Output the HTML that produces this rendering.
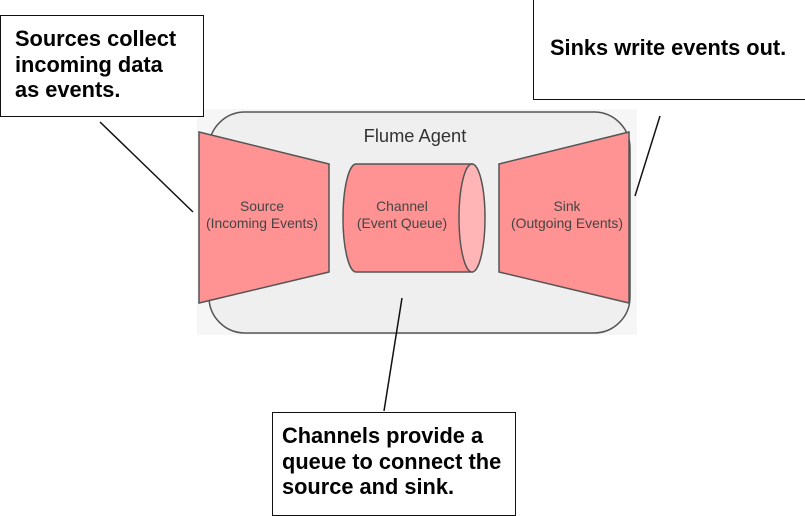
<!DOCTYPE html>
<html><head><meta charset="utf-8"><style>
html,body{margin:0;padding:0;background:#fff;}
body{width:805px;height:513px;position:relative;overflow:hidden;font-family:"Liberation Sans",Arial,sans-serif;}
.box{position:absolute;border:1.5px solid #111;background:#fff;box-sizing:border-box;font-weight:bold;color:#000;font-size:21.8px;line-height:25.5px;white-space:nowrap;}
</style></head><body>
<svg width="805" height="513" style="position:absolute;left:0;top:0">
<rect x="197" y="109" width="440" height="226" fill="#f6f6f6"/>
<rect x="209" y="112" width="421" height="221" rx="36" ry="36" fill="#efefef" stroke="#555" stroke-width="1.5"/>
<text x="415" y="142" font-family="Liberation Sans,Arial,sans-serif" font-size="18.3" fill="#333" text-anchor="middle">Flume Agent</text>
<polygon points="199,132 329,164 329,272 199,303" fill="#ff9393" stroke="#555" stroke-width="1.5"/>
<polygon points="499,164 629,132 629,303 499,272" fill="#ff9393" stroke="#555" stroke-width="1.5"/>
<path d="M356,164 L472,164 L472,272 L356,272 A13,54 0 0 1 356,164 Z" fill="#ff9393" stroke="#555" stroke-width="1.5"/>
<ellipse cx="472" cy="218" rx="13" ry="54" fill="#ffb5b5" stroke="#555" stroke-width="1.5"/>
<g font-family="Liberation Sans,Arial,sans-serif" font-size="13.9" fill="#444" text-anchor="middle">
<text x="262" y="211">Source</text><text x="262" y="228">(Incoming Events)</text>
<text x="402" y="211">Channel</text><text x="402" y="228">(Event Queue)</text>
<text x="567" y="211">Sink</text><text x="567" y="228">(Outgoing Events)</text>
</g>
<line x1="100" y1="122" x2="193" y2="212" stroke="#111" stroke-width="1.5"/>
<line x1="660" y1="116" x2="635" y2="196" stroke="#111" stroke-width="1.5"/>
<line x1="402" y1="298" x2="384" y2="411" stroke="#111" stroke-width="1.5"/>
</svg>
<div class="box" style="left:0;top:15px;width:204px;height:102px;padding:10px 0 0 14px;">Sources collect<br>incoming data<br>as events.</div>
<div class="box" style="left:533px;top:-2px;width:275px;height:102px;padding:36px 0 0 16px;">Sinks write events out.</div>
<div class="box" style="left:272px;top:412px;width:244px;height:104px;padding:10px 0 0 9px;">Channels provide a<br>queue to connect the<br>source and sink.</div>
</body></html>
